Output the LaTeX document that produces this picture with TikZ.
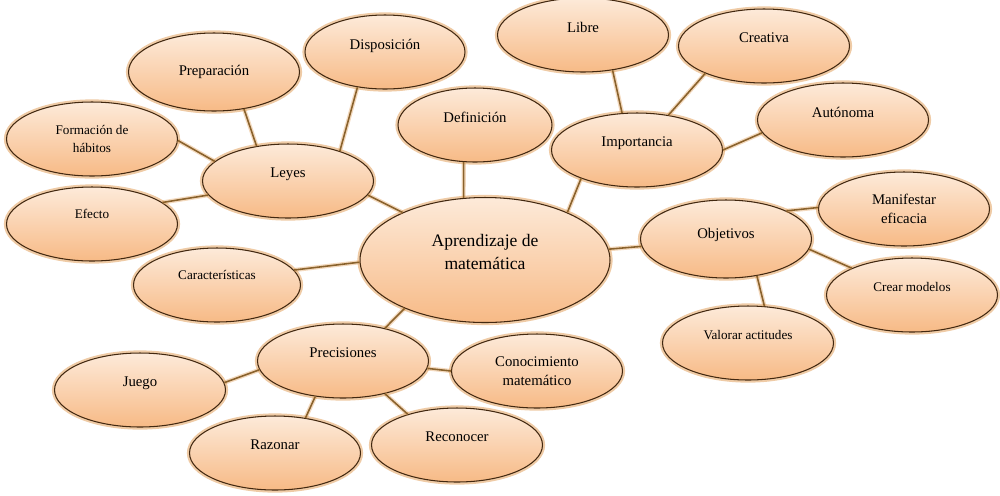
\documentclass[tikz,border=0pt]{standalone}
\usepackage{fontspec}
\setmainfont{Liberation Serif}
\usepackage{tikz}
\usetikzlibrary{shapes.geometric}

\definecolor{ideatop}{RGB}{253,234,217}
\definecolor{ideabot}{RGB}{247,186,134}
\definecolor{ideaedge}{RGB}{66,40,16}
\definecolor{ideaglow}{RGB}{225,160,92}
\definecolor{linkcol}{RGB}{138,98,44}

\begin{document}
\begin{tikzpicture}[x=0.02cm, y=-0.02cm]
      \tikzset{idea/.style={ellipse, draw=ideaedge, line width=0.6pt, top color=ideatop, bottom color=ideabot,
          minimum width=3.42cm, minimum height=1.48cm, inner sep=1pt, align=center, text depth=9pt,
          font=\fontsize{8.4}{11}\selectfont, preaction={draw=ideaglow, line width=3pt, opacity=0.55}},
        smalltext/.style={font=\fontsize{7.5}{10}\selectfont},
        link/.style={draw=linkcol, line width=0.9pt, preaction={draw=ideaglow, line width=2.4pt, opacity=0.4}}}
      \useasboundingbox (0,0) rectangle (1000,495);
      % centre
      \node[idea, minimum width=5cm, minimum height=2.5cm, font=\fontsize{10}{13}\selectfont] (main) at (485,260) {Aprendizaje de\\matemática};
      % leyes
      \node[idea] (leyes) at (288,181) {Leyes};
      \node[idea, minimum height=1.56cm, text depth=2pt] (prep) at (214,72) {Preparación};
      \node[idea, minimum width=3.2cm] (disp) at (385,52) {Disposición};
      \node[idea, smalltext, text depth=0pt] (form) at (92,139) {Formación de\\hábitos};
      \node[idea, smalltext, text depth=12pt] (efecto) at (92,224) {Efecto};
      \node[idea, smalltext, text depth=12pt, minimum width=3.34cm] (caract) at (217,285) {Características};
      \node[idea, minimum width=3.08cm] (def) at (475,125) {Definición};
      % importancia
      \node[idea] (imp) at (637,150) {Importancia};
      \node[idea] (libre) at (583,35) {Libre};
      \node[idea] (creat) at (764,46) {Creativa};
      \node[idea] (auton) at (843,120) {Autónoma};
      % objetivos
      \node[idea, minimum height=1.56cm, text depth=6pt] (obj) at (726,239) {Objetivos};
      \node[idea, text depth=0pt] (manif) at (904,209) {Manifestar\\eficacia};
      \node[idea, smalltext] (crear) at (912,295) {Crear modelos};
      \node[idea, smalltext] (valor) at (748,343) {Valorar actitudes};
      % precisiones
      \node[idea] (prec) at (343,361) {Precisiones};
      \node[idea, text depth=0pt] (conoc) at (537,371) {Conocimiento\\matemático};
      \node[idea] (juego) at (140,390) {Juego};
      \node[idea] (razon) at (275,453) {Razonar};
      \node[idea] (recon) at (457,445) {Reconocer};
      % links
      \draw[link] (main.150) -- (leyes.350);
      \draw[link] (leyes.132) -- (prep.309);
      \draw[link] (leyes.30) -- (disp.232);
      \draw[link] (leyes.165) -- (form.359);
      \draw[link] (leyes.190) -- (efecto.17);
      \draw[link] (main.109) -- (def.253);
      \draw[link] (main.30) -- (imp.207);
      \draw[link] (imp.112) -- (libre.310);
      \draw[link] (imp.48) -- (creat.205);
      \draw[link] (imp.0) -- (auton.189);
      \draw[link] (main.5) -- (obj.185);
      \draw[link] (obj.25) -- (manif.179);
      \draw[link] (obj.353) -- (crear.156);
      \draw[link] (obj.310) -- (valor.66);
      \draw[link] (main.181) -- (caract.11);
      \draw[link] (main.211) -- (prec.38);
      \draw[link] (prec.186) -- (juego.5);
      \draw[link] (prec.232) -- (razon.49);
      \draw[link] (prec.322) -- (recon.148);
      \draw[link] (prec.355) -- (conoc.180);
    \end{tikzpicture}
\end{document}
